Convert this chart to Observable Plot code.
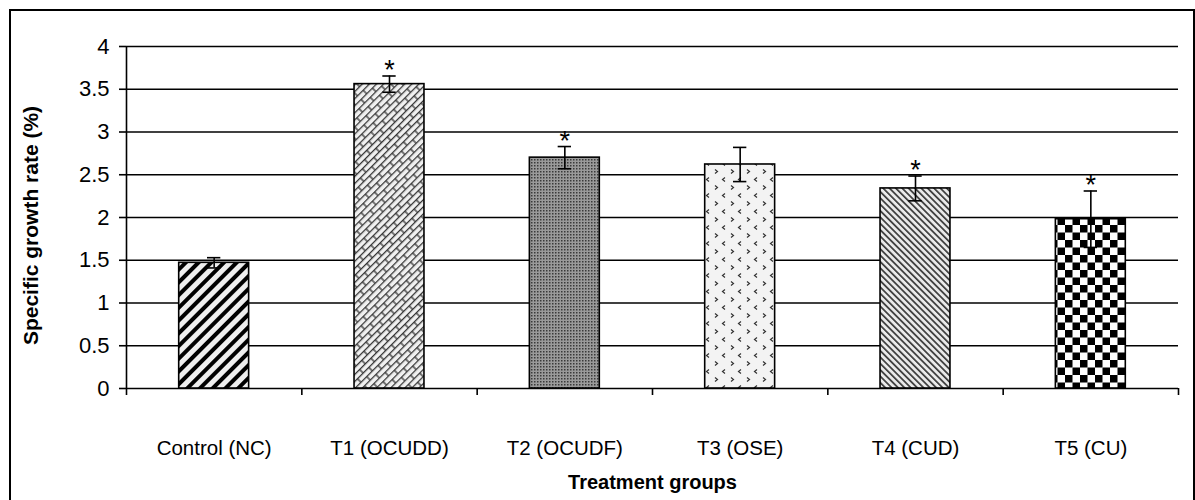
<!DOCTYPE html>
<html>
<head>
<meta charset="utf-8">
<script src="https://cdn.jsdelivr.net/npm/d3@7"></script>
<script src="https://cdn.jsdelivr.net/npm/@observablehq/plot@0.6"></script>
<style>
  html, body { margin: 0; padding: 0; background: #fff; }
  #wrap { position: relative; width: 1195px; height: 500px; overflow: hidden; }
  #border { position: absolute; left: 9px; top: 9px; width: 1182px; height: 520px; border: 2px solid #000; pointer-events: none; }
</style>
</head>
<body>
<div id="wrap"><div id="chart"></div><div id="border"></div></div>
<script>
const categories = ["Control (NC)", "T1 (OCUDD)", "T2 (OCUDF)", "T3 (OSE)", "T4 (CUD)", "T5 (CU)"];
const values = [1.47, 3.56, 2.70, 2.62, 2.34, 1.98];
const errors = [0.06, 0.095, 0.13, 0.2, 0.145, 0.33];
const significant = [false, true, true, false, true, true];
const yTicks = [0, 0.5, 1, 1.5, 2, 2.5, 3, 3.5, 4];
const xLabel = "Treatment groups";
const yLabel = "Specific growth rate (%)";

const rows = categories.map((c, i) => ({
  i, category: c, value: values[i], err: errors[i], sig: significant[i], pattern: `url(#pat${i})`
}));
const boundaries = d3.range(categories.length + 1);
const centers = categories.map((c, i) => i + 0.5);

const chart = Plot.plot({
  width: 1195,
  height: 500,
  marginLeft: 126,
  marginRight: 17,
  marginTop: 46,
  marginBottom: 112,
  style: { fontFamily: "'Liberation Sans', Arial, sans-serif", fontSize: "20px", color: "#000", background: "transparent" },
  x: { domain: [0, categories.length], axis: null },
  y: { domain: [0, 4], axis: null },
  color: { type: "identity" },
  marks: [
    Plot.ruleY(yTicks, { stroke: "#000", strokeWidth: 1.6 }),
    Plot.ruleX([0], { y1: 0, y2: 4, stroke: "#000", strokeWidth: 1.6 }),
    Plot.axisY({ ticks: yTicks, tickSize: 7, tickPadding: 10, tickFormat: d => String(d), label: null, stroke: "#000", strokeWidth: 1.6, fontSize: 22 }),
    Plot.axisX({ ticks: boundaries, tickSize: 7, tickFormat: () => "", label: null, stroke: "#000", strokeWidth: 1.6 }),
    Plot.axisX({ ticks: centers, tickSize: 0, tickPadding: 52, tickFormat: d => categories[Math.floor(d)], label: null, fontSize: 20.5 }),
    Plot.rectY(rows, { x1: "i", x2: d => d.i + 1, y: "value", insetLeft: 52.7, insetRight: 52.7, fill: "pattern", stroke: "#000", strokeWidth: 1.6 }),
    Plot.ruleX(rows, { x: d => d.i + 0.5, y1: d => d.value - d.err, y2: d => d.value + d.err, stroke: "#000", strokeWidth: 1.6 }),
    Plot.ruleY(rows, { y: d => d.value + d.err, x1: "i", x2: d => d.i + 1, insetLeft: 81, insetRight: 81, stroke: "#000", strokeWidth: 1.6 }),
    Plot.ruleY(rows, { y: d => d.value - d.err, x1: "i", x2: d => d.i + 1, insetLeft: 81, insetRight: 81, stroke: "#000", strokeWidth: 1.6 }),
    Plot.text(rows.filter(d => d.sig), { x: d => d.i + 0.5, y: d => d.value + d.err, text: () => "*", dy: 3, lineAnchor: "bottom", fontSize: 27, fill: "#000" }),
    Plot.text([xLabel], { frameAnchor: "bottom", dx: 0, dy: 100, fontWeight: "bold", fontSize: 20, fill: "#000" }),
    Plot.text([yLabel], { frameAnchor: "left", textAnchor: "middle", dx: -95, dy: 8, rotate: -90, fontWeight: "bold", fontSize: 21, fill: "#000" })
  ]
});

d3.select(chart).insert("defs", ":first-child").html(`
  <pattern id="pat0" patternUnits="userSpaceOnUse" width="9" height="9" patternTransform="rotate(45)">
    <rect width="9" height="9" fill="#eeeeee"/>
    <rect x="0" y="0" width="4" height="9" fill="#000"/>
  </pattern>
  <pattern id="pat1" patternUnits="userSpaceOnUse" width="16" height="10" patternTransform="rotate(-45)">
    <rect width="16" height="10" fill="#f0f0f0"/>
    <path d="M0,0.6H16M0,5.6H16M1,0.6V5.6M9,5.6V10.6" stroke="#333" stroke-width="1.3" fill="none"/>
  </pattern>
  <pattern id="pat2" patternUnits="userSpaceOnUse" width="3" height="3">
    <rect width="3" height="3" fill="#9a9a9a"/>
    <rect x="0" y="0" width="1.5" height="1.5" fill="#3a3a3a"/>
  </pattern>
  <pattern id="pat3" patternUnits="userSpaceOnUse" width="16" height="16">
    <rect width="16" height="16" fill="#f3f3f3"/>
    <path d="M5,1.5L2.5,3.5L5,5.5M11,9.5L13.5,11.5L11,13.5" stroke="#333" stroke-width="1.2" fill="none"/>
  </pattern>
  <pattern id="pat4" patternUnits="userSpaceOnUse" width="4.5" height="4.5" patternTransform="rotate(-45)">
    <rect width="4.5" height="4.5" fill="#eaeaea"/>
    <rect x="0" y="0" width="1.7" height="4.5" fill="#3a3a3a"/>
  </pattern>
  <pattern id="pat5" patternUnits="userSpaceOnUse" width="15" height="15">
    <rect width="15" height="15" fill="#fff"/>
    <rect x="0" y="0" width="7.5" height="7.5" fill="#000"/>
    <rect x="7.5" y="7.5" width="7.5" height="7.5" fill="#000"/>
  </pattern>
`);

document.getElementById("chart").append(chart);
</script>
</body>
</html>
